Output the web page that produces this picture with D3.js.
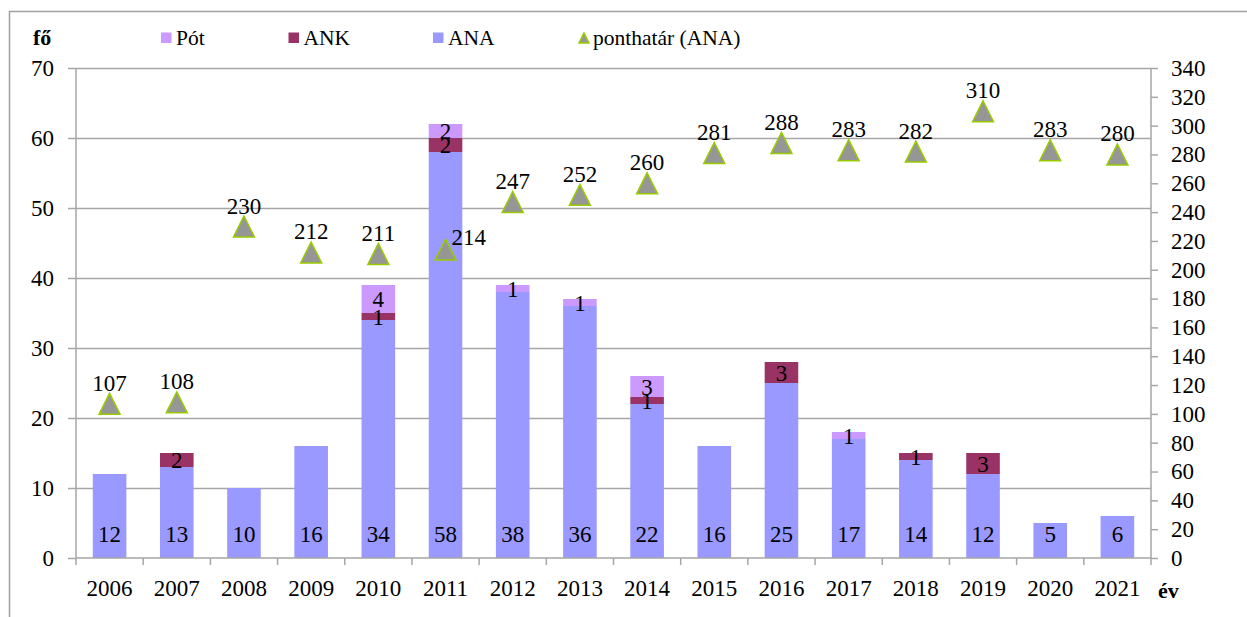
<!DOCTYPE html>
<html><head><meta charset="utf-8">
<script src="https://cdn.jsdelivr.net/npm/d3@7"></script>
<style>body{margin:0;background:#fff}svg{display:block}svg text{font-family:"Liberation Serif","Times New Roman",Tinos,Times,"DejaVu Serif",serif !important}</style>
</head><body>
<svg id="c" width="1247" height="617"></svg>
<script>
const years = ["2006","2007","2008","2009","2010","2011","2012","2013","2014","2015","2016","2017","2018","2019","2020","2021"];
const ana = [12,13,10,16,34,58,38,36,22,16,25,17,14,12,5,6];
const ank = [0,2,0,0,1,2,0,0,1,0,3,0,1,3,0,0];
const pot = [0,0,0,0,4,2,1,1,3,0,0,1,0,0,0,0];
const ponthatar = [107,108,230,212,211,214,247,252,260,281,288,283,282,310,283,280];
const leftTicks = [0,10,20,30,40,50,60,70];
const rightTicks = d3.range(0,341,20);

const svg = d3.select("#c");
const L=76, R=1151, T=68, B=558;
const FS = 23, LFS = 21.5;
const cAna="#9999ff", cAnk="#993366", cPot="#cc99ff", grid="#a6a6a6";

svg.append("rect").attr("x",9.5).attr("y",11.5).attr("width",1300).attr("height",700).attr("fill","none").attr("stroke","#a0a0a0").attr("stroke-width",1.5);

const x = d3.scaleBand().domain(years).range([L,R]).paddingInner(0.5).paddingOuter(0.25);
const xb = d3.scaleBand().domain(years).range([L,R]);
const y = d3.scaleLinear().domain([0,70]).range([B,T]);
const y2 = d3.scaleLinear().domain([0,340]).range([B,T]);

// gridlines
svg.append("g").selectAll("line").data(leftTicks.slice(1)).join("line")
  .attr("x1",L).attr("x2",R).attr("y1",d=>Math.round(y(d))+0.5).attr("y2",d=>Math.round(y(d))+0.5)
  .attr("stroke",grid).attr("stroke-width",1.5);

// stacked bars
const rows = years.map((yr,i)=>({yr,ana:ana[i],ank:ank[i],pot:pot[i]}));
const stack = d3.stack().keys(["ana","ank","pot"])(rows);
const colors = {ana:cAna,ank:cAnk,pot:cPot};
stack.forEach(s=>{
  svg.append("g").selectAll("rect").data(s.filter(d=>d[1]>d[0])).join("rect")
    .attr("x",d=>x(d.data.yr)).attr("width",x.bandwidth())
    .attr("y",d=>y(d[1])).attr("height",d=>y(d[0])-y(d[1]))
    .attr("fill",colors[s.key]);
});

// axes
const gl = svg.append("g").attr("transform",`translate(${L},0)`)
  .call(d3.axisLeft(y).tickValues(leftTicks).tickSize(8).tickPadding(14));
const gr = svg.append("g").attr("transform",`translate(${R},0)`)
  .call(d3.axisRight(y2).tickValues(rightTicks).tickSize(7).tickPadding(13));
const gx = svg.append("g").attr("transform",`translate(0,${B})`)
  .call(d3.axisBottom(xb).tickSize(0).tickPadding(22));
[gl,gr,gx].forEach(g=>{
  g.attr("font-family",null);
  g.select(".domain").attr("stroke",grid).attr("stroke-width",1.5);
  g.selectAll(".tick line").attr("stroke",grid).attr("stroke-width",1.5);
  g.selectAll("text").attr("font-size",FS).attr("fill","#000");
});
gl.select(".domain").attr("d",`M0,${B}V${T}`);
gr.select(".domain").attr("d",`M0,${B}V${T}`);
gx.select(".domain").attr("d",`M${L},0H${R}`);
// x category separator ticks
svg.append("g").selectAll("line").data(d3.range(years.length+1)).join("line")
  .attr("x1",i=>L+i*xb.step()).attr("x2",i=>L+i*xb.step())
  .attr("y1",B).attr("y2",B+7).attr("stroke",grid).attr("stroke-width",1.5);

// bar labels
const lab = svg.append("g").attr("font-size",FS).attr("text-anchor","middle");
rows.forEach(r=>{
  const cx = x(r.yr)+x.bandwidth()/2;
  lab.append("text").attr("x",cx).attr("y",B-16).text(r.ana);
  if(r.ank>0) lab.append("text").attr("x",cx).attr("y",y(r.ana+r.ank/2)+8).text(r.ank);
  if(r.pot>0) lab.append("text").attr("x",cx).attr("y",y(r.ana+r.ank+r.pot/2)+8).text(r.pot);
});

// triangles
const triPath = (w,h)=>`M0,${-h/2}L${w/2},${h/2}L${-w/2},${h/2}Z`;
const pts = svg.append("g");
ponthatar.forEach((v,i)=>{
  const cx = xb(years[i])+xb.bandwidth()/2, cy = y2(v);
  pts.append("path").attr("d",triPath(21,21)).attr("transform",`translate(${cx},${cy})`)
    .attr("fill","#969696").attr("stroke","#99cc00").attr("stroke-width",1.5);
  const right = years[i]==="2011";
  pts.append("text").attr("font-size",FS)
    .attr("x", right? cx+6 : cx).attr("y", right? cy-5 : cy-13)
    .attr("text-anchor", right? "start":"middle").text(v);
});

// axis titles
svg.append("text").attr("x",33).attr("y",45).attr("font-size",22).attr("font-weight","bold").text("fő");
svg.append("text").attr("x",1158).attr("y",598).attr("font-size",22).attr("font-weight","bold").text("év");

// legend
const leg = svg.append("g").attr("font-size",LFS);
const items = [{t:"Pót",c:cPot,x:161},{t:"ANK",c:cAnk,x:288.5},{t:"ANA",c:cAna,x:433}];
items.forEach(it=>{
  leg.append("rect").attr("x",it.x).attr("y",32.5).attr("width",10.5).attr("height",10.5).attr("fill",it.c);
  leg.append("text").attr("x",it.x+15).attr("y",45).text(it.t);
});
leg.append("path").attr("d",triPath(10,10)).attr("transform","translate(584,38)")
  .attr("fill","#969696").attr("stroke","#99cc00").attr("stroke-width",1.5);
leg.append("text").attr("x",593).attr("y",45).text("ponthatár (ANA)");
</script>
</body></html>
